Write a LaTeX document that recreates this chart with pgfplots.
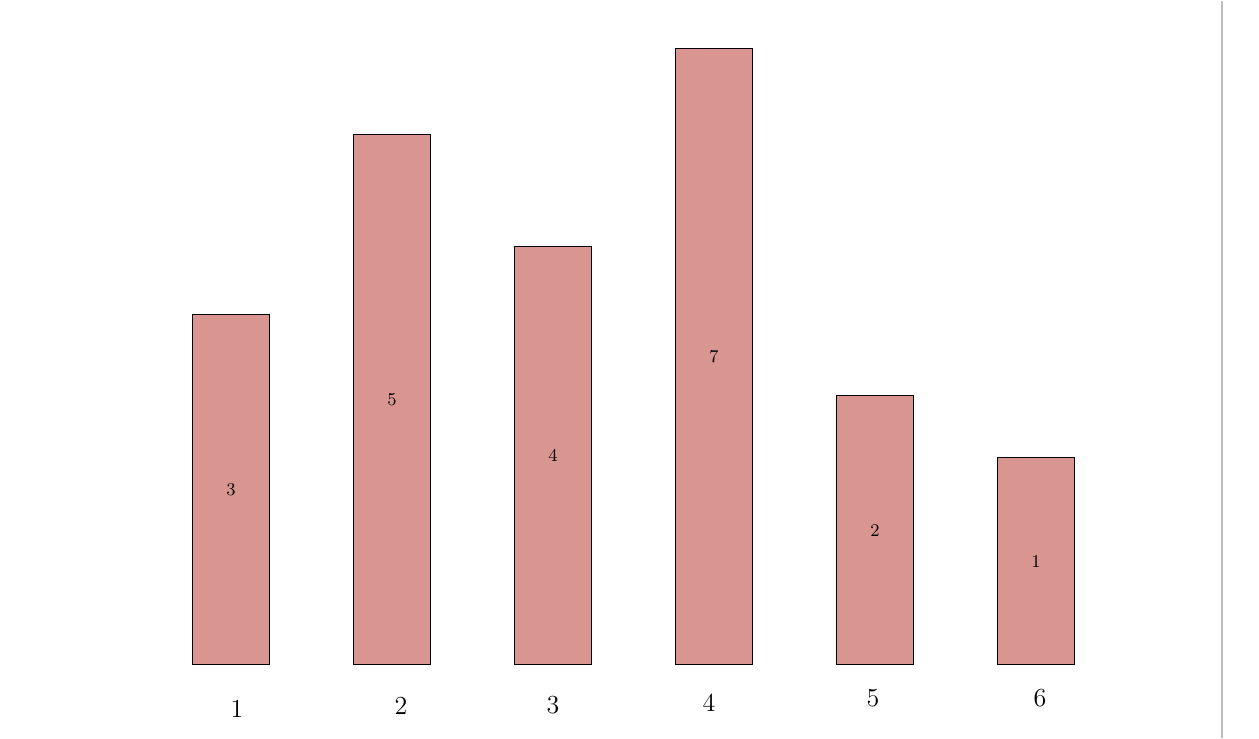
\documentclass[border=0pt]{standalone}
\usepackage{pgfplots}
\pgfplotsset{compat=1.18}
\definecolor{barpink}{HTML}{D99590}
\definecolor{edgegrey}{HTML}{BDBDBD}
\begin{document}
\begin{tikzpicture}
\begin{axis}[
  scale only axis,
  width=629.5pt, height=368.5pt,
  xmin=-0.4348, xmax=7.3851,
  ymin=-0.73, ymax=6.64,
  axis line style={draw=none},
  xtick=\empty, ytick=\empty,
  clip=false,
]
\addplot[ybar, bar width=38.5pt, fill=barpink, draw=black, line width=0.5pt] coordinates {
  (1,3.50) (2,5.30) (3,4.18) (4,6.16) (5,2.69) (6,2.07)
};
% labels inside bars
\node[font=\small] at (axis cs:1,1.75) {3};
\node[font=\small] at (axis cs:2,2.65) {5};
\node[font=\small] at (axis cs:3,2.09) {4};
\node[font=\small] at (axis cs:4,3.08) {7};
\node[font=\small] at (axis cs:5,1.345) {2};
\node[font=\small] at (axis cs:6,1.035) {1};
% category labels
\node[font=\fontsize{13}{15}\selectfont] at (axis cs:1.037,-0.44) {1};
\node[font=\fontsize{13}{15}\selectfont] at (axis cs:2.056,-0.41) {2};
\node[font=\fontsize{13}{15}\selectfont] at (axis cs:3.0,-0.41) {3};
\node[font=\fontsize{13}{15}\selectfont] at (axis cs:3.969,-0.38) {4};
\node[font=\fontsize{13}{15}\selectfont] at (axis cs:4.988,-0.34) {5};
\node[font=\fontsize{13}{15}\selectfont] at (axis cs:6.025,-0.34) {6};
\draw[edgegrey, line width=0.6pt] (axis cs:7.155,-0.73) -- (axis cs:7.155,6.64);
\end{axis}
\end{tikzpicture}
\end{document}
